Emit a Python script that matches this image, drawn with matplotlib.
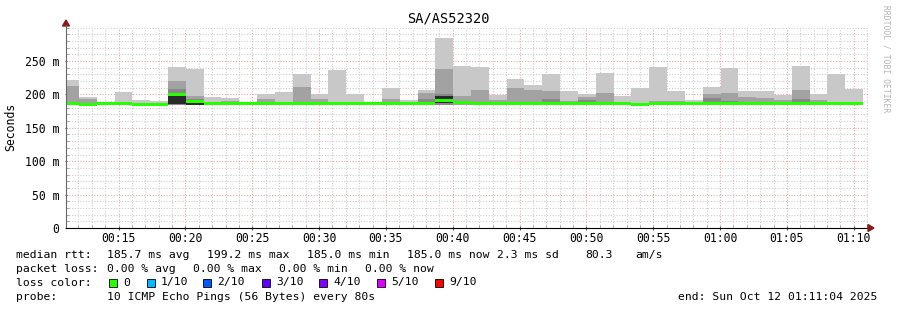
import numpy as np
import matplotlib
matplotlib.use("Agg")
import matplotlib.pyplot as plt
from matplotlib.patches import Polygon, Rectangle

nan = np.nan

# one probe round every 80 s; first round starts 00:10:42 (seconds since 00:00)
step_s = 80
first_start = 642
view_start, view_end = 664, 4264  # 00:11:04 .. 01:11:04

# smoke layers (ms), one value per round
smoke_min = [184] * 45
light_hi = [222, 196, 187, 204, 192, 190, 241, 238, 196, 194, 187, 200, 204, 230, 201,
            237, 201, 187, 210, 192, 207, 284, 243, 241, 199, 223, 214, 230, 205, 201,
            232, 197, 210, 241, 205, 192, 211, 240, 205, 205, 199, 243, 201, 230, 208]
mid_hi = [212, 193, nan, nan, nan, nan, 220, 197, nan, 190, nan, 193, nan, 211, 193,
          nan, nan, nan, 193, nan, 202, 238, 198, 207, 192, 210, 207, 205, 190, 196,
          202, 189, nan, 190, 190, nan, 201, 202, 196, 195, 192, 207, 192, 187, nan]
deep_hi = [189, nan, nan, nan, nan, nan, 208, 193, nan, nan, nan, nan, nan, 189, nan,
           nan, nan, nan, nan, nan, 193, 200, nan, nan, nan, nan, nan, 193, nan, 192,
           nan, nan, nan, nan, nan, nan, 195, 190, nan, nan, nan, 193, nan, nan, nan]
dark_lo = [nan] * 6 + [185, 184] + [nan] * 13 + [187] + [nan] * 23
dark_hi = [nan] * 6 + [199, 188] + [nan] * 13 + [197] + [nan] * 23
median = [186, 185.5, 186.5, 186, 185.5, 185.5, 200, 189, 186, 186, 186, 186, 186, 186, 186,
          186, 186, 186, 186.5, 186, 186, 191.5, 187.5, 186, 186, 186, 186, 186.5, 186, 186,
          186, 186, 185, 186, 186, 186, 186, 186, 186, 186, 186, 186, 186, 186, 186]

x_ticks = [900, 1200, 1500, 1800, 2100, 2400, 2700, 3000, 3300, 3600, 3900, 4200]
x_labels = ["00:15", "00:20", "00:25", "00:30", "00:35", "00:40", "00:45",
            "00:50", "00:55", "01:00", "01:05", "01:10"]
y_ticks = [0, 50, 100, 150, 200, 250]
y_labels = ["0", "50 m", "100 m", "150 m", "200 m", "250 m"]

loss_labels = ["0", "1/10", "2/10", "3/10", "4/10", "5/10", "9/10"]
loss_colors = ["#26ff00", "#00b8ff", "#0059ff", "#5e00ff", "#7e00ff", "#dd00ff", "#ff0000"]

W, H = 897, 310
plt.rcParams["font.family"] = "DejaVu Sans Mono"
fig = plt.figure(figsize=(W / 100, H / 100), dpi=100)


def fx(px):
    return px / W


def fy(py):
    return 1 - py / H


ax = fig.add_axes([fx(66), fy(228), fx(868) - fx(66), fy(27.6) - fy(228)])
ax.set_xlim(view_start, view_end)
ax.set_ylim(0, 300)

starts = first_start + step_s * np.arange(45)
smin = np.array(smoke_min, float)


def layer(top, color, bottom=smin):
    top = np.array(top, float)
    ok = ~np.isnan(top)
    ax.bar(starts[ok], top[ok] - np.asarray(bottom)[ok], width=step_s, bottom=np.asarray(bottom)[ok],
           align="edge", color=color, linewidth=0, zorder=3)


layer(light_hi, "#c8c8c8")
layer(mid_hi, "#a2a2a2")
layer(deep_hi, "#888888")
dlo = np.array(dark_lo, float)
layer(dark_hi, "#2a2a2a", bottom=dlo)

med = np.array(median)
ax.bar(starts, 4.5, width=step_s, bottom=med - 2.25, align="edge",
       color=loss_colors[0], linewidth=0, zorder=4)

# grid
ax.set_xticks(x_ticks)
ax.set_xticklabels(x_labels, fontsize=8.3)
ax.set_xticks(np.arange(720, 4264, 60), minor=True)
ax.set_yticks(y_ticks)
ax.set_yticklabels(y_labels, fontsize=8.3)
ax.set_yticks(np.arange(0, 301, 10), minor=True)
ax.grid(which="minor", color="#cdcdcd", linestyle=(0, (1, 1.5)), linewidth=0.8, zorder=1)
ax.grid(which="major", color="#eba6a6", linestyle=(0, (1, 1.5)), linewidth=0.8, zorder=2)
ax.tick_params(which="major", length=3, direction="inout", color="#555555")
ax.tick_params(which="minor", length=2, direction="in", color="#999999")
ax.tick_params(axis="x", which="major", pad=1.5)
ax.tick_params(axis="y", which="both", length=2, pad=4)
for s in ("top", "right"):
    ax.spines[s].set_visible(False)
ax.spines["left"].set_color("#666666")
ax.spines["bottom"].set_color("black")
ax.spines["left"].set_zorder(5)
ax.spines["bottom"].set_zorder(5)
ax.set_axisbelow(True)

# arrow heads
fig.patches.append(Polygon([(fx(868), fy(224.5)), (fx(874), fy(228)), (fx(868), fy(231.5))],
                           closed=True, color="#8b1a1a", transform=fig.transFigure))
fig.patches.append(Polygon([(fx(62.5), fy(26)), (fx(66), fy(20)), (fx(69.5), fy(26))],
                           closed=True, color="#8b1a1a", transform=fig.transFigure))
fig.add_artist(plt.Line2D([fx(66), fx(66)], [fy(27.6), fy(25)], color="#666666", lw=0.8))

fig.text(fx(448), fy(19), "SA/AS52320", ha="center", va="center", fontsize=9.8)
fig.text(fx(11), fy(127), "Seconds", ha="center", va="center", rotation=90, fontsize=8.3)
fig.text(fx(886), fy(5), "RRDTOOL / TOBI OETIKER", ha="center", va="top", rotation=270,
         fontsize=5.8, color="#b4b4b4")

fs = 8.2
rows = [
    (255, [(16, "median rtt:"), (107, "185.7 ms avg"), (207, "199.2 ms max"),
           (307, "185.0 ms min"), (407, "185.0 ms now"), (497, "2.3 ms sd"),
           (585, "80.3"), (635, "am/s")]),
    (268.5, [(16, "packet loss:"), (107, "0.00 % avg"), (193, "0.00 % max"),
             (279, "0.00 % min"), (365, "0.00 % now")]),
    (296.5, [(16, "probe:"), (107, "10 ICMP Echo Pings (56 Bytes) every 80s"),
             (678, "end: Sun Oct 12 01:11:04 2025")]),
]
for y, items in rows:
    for x, s in items:
        fig.text(fx(x), fy(y), s, ha="left", va="center", fontsize=fs)

fig.text(fx(16), fy(282.5), "loss color:", ha="left", va="center", fontsize=fs)
sq_x = [109, 147, 203, 262, 319, 377, 435]
for x, lab, col in zip(sq_x, loss_labels, loss_colors):
    fig.patches.append(Rectangle((fx(x), fy(286.5)), fx(8), fy(278.5) - fy(286.5),
                                 facecolor=col, edgecolor="black", linewidth=0.6,
                                 transform=fig.transFigure))
    fig.text(fx(x + 14), fy(282.5), lab, ha="left", va="center", fontsize=fs)

fig.savefig("out.png", dpi=100)
